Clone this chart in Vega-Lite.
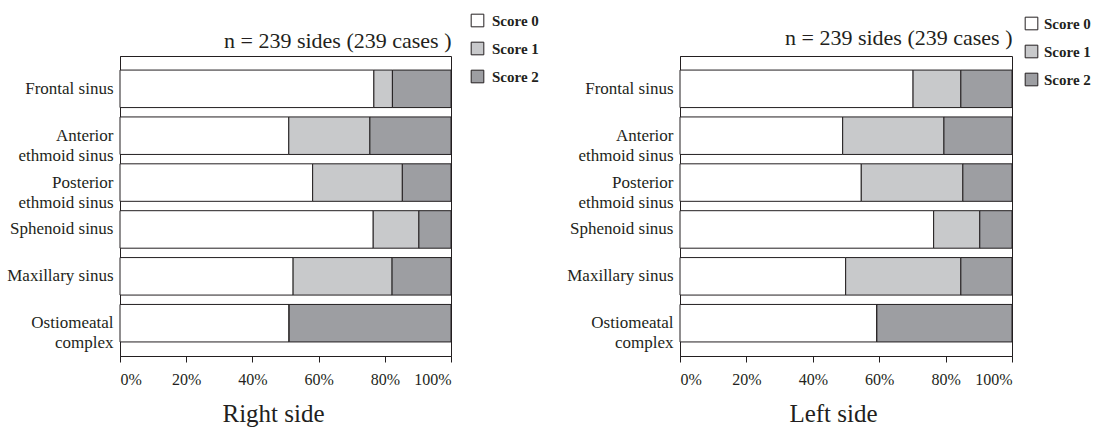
{
  "$schema": "https://vega.github.io/schema/vega-lite/v6.json",
  "padding": {"left": 5, "top": 12, "right": 0, "bottom": 0},
  "background": "white",
  "config": {
    "font": "Liberation Serif",
    "view": {"stroke": "#231f20", "strokeWidth": 1},
    "axis": {"labelFont": "Liberation Serif", "titleFont": "Liberation Serif", "labelColor": "#231f20", "titleColor": "#231f20", "domainColor": "#231f20", "tickColor": "#231f20", "grid": false, "titleFontWeight": "normal"},
    "legend": {"labelFont": "Liberation Serif", "labelFontWeight": "bold", "labelColor": "#231f20"}
  },
  "data": {"values": [
    {"side": "Right", "region": "Frontal sinus", "score": "Score 0", "ord": 0, "pct": 76.7},
    {"side": "Right", "region": "Frontal sinus", "score": "Score 1", "ord": 1, "pct": 5.6},
    {"side": "Right", "region": "Frontal sinus", "score": "Score 2", "ord": 2, "pct": 17.7},
    {"side": "Right", "region": "Anterior|ethmoid sinus", "score": "Score 0", "ord": 0, "pct": 51.0},
    {"side": "Right", "region": "Anterior|ethmoid sinus", "score": "Score 1", "ord": 1, "pct": 24.5},
    {"side": "Right", "region": "Anterior|ethmoid sinus", "score": "Score 2", "ord": 2, "pct": 24.5},
    {"side": "Right", "region": "Posterior|ethmoid sinus", "score": "Score 0", "ord": 0, "pct": 58.2},
    {"side": "Right", "region": "Posterior|ethmoid sinus", "score": "Score 1", "ord": 1, "pct": 27.1},
    {"side": "Right", "region": "Posterior|ethmoid sinus", "score": "Score 2", "ord": 2, "pct": 14.7},
    {"side": "Right", "region": "Sphenoid sinus", "score": "Score 0", "ord": 0, "pct": 76.5},
    {"side": "Right", "region": "Sphenoid sinus", "score": "Score 1", "ord": 1, "pct": 13.8},
    {"side": "Right", "region": "Sphenoid sinus", "score": "Score 2", "ord": 2, "pct": 9.7},
    {"side": "Right", "region": "Maxillary sinus", "score": "Score 0", "ord": 0, "pct": 52.3},
    {"side": "Right", "region": "Maxillary sinus", "score": "Score 1", "ord": 1, "pct": 29.9},
    {"side": "Right", "region": "Maxillary sinus", "score": "Score 2", "ord": 2, "pct": 17.8},
    {"side": "Right", "region": "Ostiomeatal|complex", "score": "Score 0", "ord": 0, "pct": 51.1},
    {"side": "Right", "region": "Ostiomeatal|complex", "score": "Score 1", "ord": 1, "pct": 0},
    {"side": "Right", "region": "Ostiomeatal|complex", "score": "Score 2", "ord": 2, "pct": 48.9},
    {"side": "Left", "region": "Frontal sinus", "score": "Score 0", "ord": 0, "pct": 70.2},
    {"side": "Left", "region": "Frontal sinus", "score": "Score 1", "ord": 1, "pct": 14.4},
    {"side": "Left", "region": "Frontal sinus", "score": "Score 2", "ord": 2, "pct": 15.4},
    {"side": "Left", "region": "Anterior|ethmoid sinus", "score": "Score 0", "ord": 0, "pct": 49.0},
    {"side": "Left", "region": "Anterior|ethmoid sinus", "score": "Score 1", "ord": 1, "pct": 30.5},
    {"side": "Left", "region": "Anterior|ethmoid sinus", "score": "Score 2", "ord": 2, "pct": 20.5},
    {"side": "Left", "region": "Posterior|ethmoid sinus", "score": "Score 0", "ord": 0, "pct": 54.6},
    {"side": "Left", "region": "Posterior|ethmoid sinus", "score": "Score 1", "ord": 1, "pct": 30.6},
    {"side": "Left", "region": "Posterior|ethmoid sinus", "score": "Score 2", "ord": 2, "pct": 14.8},
    {"side": "Left", "region": "Sphenoid sinus", "score": "Score 0", "ord": 0, "pct": 76.4},
    {"side": "Left", "region": "Sphenoid sinus", "score": "Score 1", "ord": 1, "pct": 13.9},
    {"side": "Left", "region": "Sphenoid sinus", "score": "Score 2", "ord": 2, "pct": 9.7},
    {"side": "Left", "region": "Maxillary sinus", "score": "Score 0", "ord": 0, "pct": 49.9},
    {"side": "Left", "region": "Maxillary sinus", "score": "Score 1", "ord": 1, "pct": 34.7},
    {"side": "Left", "region": "Maxillary sinus", "score": "Score 2", "ord": 2, "pct": 15.4},
    {"side": "Left", "region": "Ostiomeatal|complex", "score": "Score 0", "ord": 0, "pct": 59.3},
    {"side": "Left", "region": "Ostiomeatal|complex", "score": "Score 1", "ord": 1, "pct": 0},
    {"side": "Left", "region": "Ostiomeatal|complex", "score": "Score 2", "ord": 2, "pct": 40.7}
  ]},
  "resolve": {"scale": {"color": "independent"}, "legend": {"color": "independent"}},
  "spacing": 25,
  "hconcat": [
    {
      "width": 331, "height": 300,
      "transform": [{"filter": "datum.side === 'Right'"}],
      "encoding": {
        "y": {"field": "region", "type": "nominal", "sort": ["Frontal sinus", "Anterior|ethmoid sinus", "Posterior|ethmoid sinus", "Sphenoid sinus", "Maxillary sinus", "Ostiomeatal|complex"],
              "scale": {"paddingInner": 0.2, "paddingOuter": 0.3},
              "axis": {"title": null, "ticks": false, "labelFontSize": 17, "labelPadding": 7, "labelExpr": "split(datum.label, '|')", "labelLineHeight": 20, "minExtent": 114, "maxExtent": 114, "labelLimit": 200}}
      },
      "layer": [
        {
          "mark": {"type": "bar", "stroke": "#231f20", "strokeWidth": 1},
          "encoding": {
            "x": {"field": "pct", "type": "quantitative", "stack": "zero", "scale": {"domain": [0, 100], "nice": false},
                  "axis": {"orient": "bottom", "values": [0, 20, 40, 60, 80, 100], "labelExpr": "datum.value + '%'", "labelFontSize": 16, "tickSize": 6, "labelPadding": 9, "title": "Right side", "titleFontSize": 25, "titlePadding": 14, "titleX": 153}},
            "color": {"field": "score", "type": "nominal", "scale": {"domain": ["Score 0", "Score 1", "Score 2"], "range": ["#ffffff", "#c8c9cb", "#9d9ea2"]},
                      "legend": {"title": null, "orient": "none", "legendX": 350, "legendY": -43, "symbolType": "square", "symbolSize": 160, "symbolStrokeColor": "#231f20", "symbolStrokeWidth": 1, "labelFontSize": 15, "rowPadding": 11, "labelOffset": 7}},
            "order": {"field": "ord", "type": "quantitative"}
          }
        },
        {
          "mark": {"type": "bar", "opacity": 0},
          "encoding": {
            "x": {"field": "pct", "type": "quantitative", "stack": "zero", "scale": {"domain": [0, 100], "nice": false},
                  "axis": {"orient": "top", "domain": false, "ticks": false, "labels": false, "title": "n = 239 sides (239 cases )", "titleFontSize": 22, "titleAnchor": "end", "titlePadding": 4}},
            "order": {"field": "ord", "type": "quantitative"}
          }
        }
      ],
      "resolve": {"axis": {"x": "independent"}}
    },
    {
      "width": 332, "height": 300,
      "transform": [{"filter": "datum.side === 'Left'"}],
      "encoding": {
        "y": {"field": "region", "type": "nominal", "sort": ["Frontal sinus", "Anterior|ethmoid sinus", "Posterior|ethmoid sinus", "Sphenoid sinus", "Maxillary sinus", "Ostiomeatal|complex"],
              "scale": {"paddingInner": 0.2, "paddingOuter": 0.3},
              "axis": {"title": null, "ticks": false, "labelFontSize": 17, "labelPadding": 7, "labelExpr": "split(datum.label, '|')", "labelLineHeight": 20, "minExtent": 114, "maxExtent": 114, "labelLimit": 200}}
      },
      "layer": [
        {
          "mark": {"type": "bar", "stroke": "#231f20", "strokeWidth": 1},
          "encoding": {
            "x": {"field": "pct", "type": "quantitative", "stack": "zero", "scale": {"domain": [0, 100], "nice": false},
                  "axis": {"orient": "bottom", "values": [0, 20, 40, 60, 80, 100], "labelExpr": "datum.value + '%'", "labelFontSize": 16, "tickSize": 6, "labelPadding": 9, "title": "Left side", "titleFontSize": 25, "titlePadding": 14, "titleX": 153}},
            "color": {"field": "score", "type": "nominal", "scale": {"domain": ["Score 0", "Score 1", "Score 2"], "range": ["#ffffff", "#c8c9cb", "#9d9ea2"]},
                      "legend": {"title": null, "orient": "none", "legendX": 344, "legendY": -40, "symbolType": "square", "symbolSize": 160, "symbolStrokeColor": "#231f20", "symbolStrokeWidth": 1, "labelFontSize": 15, "rowPadding": 11, "labelOffset": 5}},
            "order": {"field": "ord", "type": "quantitative"}
          }
        },
        {
          "mark": {"type": "bar", "opacity": 0},
          "encoding": {
            "x": {"field": "pct", "type": "quantitative", "stack": "zero", "scale": {"domain": [0, 100], "nice": false},
                  "axis": {"orient": "top", "domain": false, "ticks": false, "labels": false, "title": "n = 239 sides (239 cases )", "titleFontSize": 22, "titleAnchor": "end", "titlePadding": 7}},
            "order": {"field": "ord", "type": "quantitative"}
          }
        }
      ],
      "resolve": {"axis": {"x": "independent"}}
    }
  ]
}
